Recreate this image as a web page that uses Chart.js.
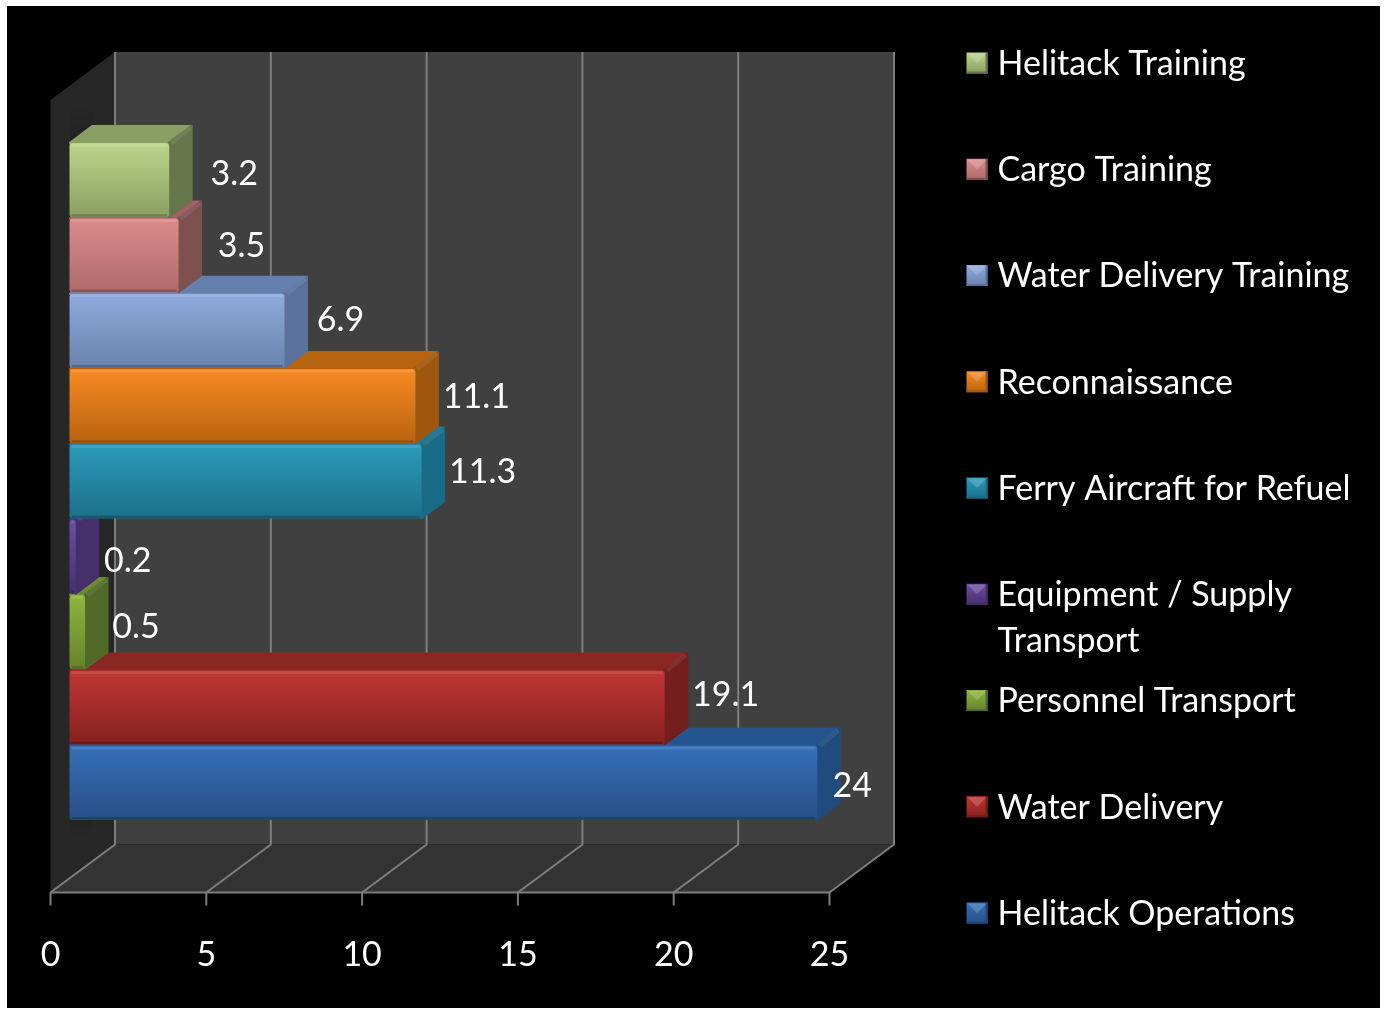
<!DOCTYPE html>
<html><head><meta charset="utf-8">
<style>html,body{margin:0;padding:0;background:#fff}canvas{display:block}</style>
<script src="https://cdn.jsdelivr.net/npm/chart.js@4/dist/chart.umd.min.js"></script>
</head><body><canvas id="c" width="1384" height="1009"></canvas>
<script>
const categories = ["Helitack Operations","Water Delivery","Personnel Transport","Equipment / Supply Transport","Ferry Aircraft for Refuel","Reconnaissance","Water Delivery Training","Cargo Training","Helitack Training"];
const values = [24,19.1,0.5,0.2,11.3,11.1,6.9,3.5,3.2];
const frontTop = ["#3670ba","#c03633","#8eb43f","#6f4ea3","#2b9abb","#f78a24","#8fabdc","#dd8b8b","#bcd58a"];
const frontBottom = ["#274f86","#85211f","#66832b","#452f6b","#1c7089","#b9630f","#6a82ae","#ad6b6b","#8a9f62"];
const topColors = ["#24558f","#8a2725","#6d8a30","#4e3677","#1c7a97","#b5630f","#6580ae","#a16161","#8a9f63"];
const sideColors = ["#204b7e","#741f1d","#516a28","#45306b","#186c85","#9f5710","#5a729d","#7f5050","#64764a"];
const labelNudgeX = [35,61,51,52,61,61,56,63,65];
const labelNudgeY = [3,-12,-5,4,-9,-9,-11,-9,-6];
const tickStep = 5, axisMax = 25;
const FONT = "Lato, Carlito, sans-serif";
const TEXT_SIZE = 34;

const WALL_DX = 64.5, WALL_DY = 48, FLOOR_Y = 892.5, WALL_TOP = 100;
const BAR_SHIFT = 19, DEPTH_X = 23, DEPTH_Y = 17.5;

function poly(ctx, pts, fill){
  ctx.beginPath();
  pts.forEach((p,i)=> i?ctx.lineTo(p[0],p[1]):ctx.moveTo(p[0],p[1]));
  ctx.closePath();
  ctx.fillStyle = fill; ctx.fill();
}

const origDraw = Chart.BarElement.prototype.draw;
Chart.BarElement.prototype.draw = function(ctx){
  const i = this.$context ? this.$context.dataIndex : 0;
  const x = this.x, base = this.base, t = this.y - this.height/2, b = this.y + this.height/2;
  ctx.save();
  ctx.translate(BAR_SHIFT,0);
  ctx.lineJoin = "round"; ctx.lineWidth = 3;
  // top face
  ctx.strokeStyle = topColors[i];
  poly(ctx,[[base+1,t],[base+DEPTH_X,t-DEPTH_Y+1],[x+DEPTH_X-1,t-DEPTH_Y+1],[x,t]],topColors[i]);
  ctx.stroke();
  // side face
  ctx.strokeStyle = sideColors[i];
  poly(ctx,[[x,t],[x+DEPTH_X-1,t-DEPTH_Y+1],[x+DEPTH_X-1,b-DEPTH_Y],[x,b-1]],sideColors[i]);
  ctx.stroke();
  // bevel on shared edge
  ctx.strokeStyle = "rgba(255,255,255,0.08)"; ctx.lineWidth = 5;
  ctx.beginPath(); ctx.moveTo(x+2,t); ctx.lineTo(x+DEPTH_X-2,t-DEPTH_Y+2); ctx.stroke();
  origDraw.call(this,ctx);
  // highlight on the front edge
  ctx.fillStyle = "rgba(255,255,255,0.12)";
  ctx.fillRect(base+2,t+1,Math.max(0,x-base-4),2.5);
  ctx.fillStyle = "rgba(0,0,0,0.2)";
  ctx.fillRect(base+2,b-3,Math.max(0,x-base-4),2.5);
  ctx.restore();
};

const backdrop = {
  id:"backdrop",
  beforeDraw(chart){
    const c = chart.ctx;
    c.save(); c.fillStyle = "#000"; c.fillRect(7,6,1373,1002); c.restore();
  },
  beforeDatasetsDraw(chart){
    const c = chart.ctx, xs = chart.scales.x;
    const x0 = xs.getPixelForValue(0), x1 = xs.getPixelForValue(axisMax);
    c.save();
    poly(c,[[x0+WALL_DX,WALL_TOP-WALL_DY],[x1+WALL_DX,WALL_TOP-WALL_DY],[x1+WALL_DX,FLOOR_Y-WALL_DY],[x0+WALL_DX,FLOOR_Y-WALL_DY]],"#404040");
    poly(c,[[x0,FLOOR_Y],[x0+WALL_DX,FLOOR_Y-WALL_DY],[x1+WALL_DX,FLOOR_Y-WALL_DY],[x1,FLOOR_Y]],"#333333");
    poly(c,[[x0,WALL_TOP],[x0+WALL_DX,WALL_TOP-WALL_DY],[x0+WALL_DX,FLOOR_Y-WALL_DY],[x0,FLOOR_Y]],"#272727");
    c.strokeStyle = "#7d7d7d"; c.lineWidth = 2;
    xs.ticks.forEach(tk=>{
      const x = xs.getPixelForValue(tk.value);
      c.beginPath();
      c.moveTo(x+WALL_DX,WALL_TOP-WALL_DY);
      c.lineTo(x+WALL_DX,FLOOR_Y-WALL_DY);
      c.lineTo(x,FLOOR_Y);
      c.lineTo(x,FLOOR_Y+13);
      c.stroke();
    });
    c.beginPath(); c.moveTo(x0,FLOOR_Y); c.lineTo(x1,FLOOR_Y); c.stroke();
    // soft shadow on the side wall, above and below the bars
    const a = chart.chartArea, sx = x0+BAR_SHIFT;
    let g = c.createLinearGradient(0,a.top-38,0,a.top);
    g.addColorStop(0,"rgba(0,0,0,0)"); g.addColorStop(1,"rgba(0,0,0,0.14)");
    c.fillStyle = g; c.fillRect(sx,a.top-38,24,38);
    g = c.createLinearGradient(0,a.bottom,0,a.bottom+16);
    g.addColorStop(0,"rgba(0,0,0,0.14)"); g.addColorStop(1,"rgba(0,0,0,0)");
    c.fillStyle = g; c.fillRect(sx,a.bottom,22,16);
    c.restore();
  },
  afterDatasetsDraw(chart){
    const c = chart.ctx, xs = chart.scales.x, ys = chart.scales.y;
    c.save();
    c.fillStyle = "#fff"; c.font = TEXT_SIZE+"px "+FONT;
    c.textAlign = "center"; c.textBaseline = "middle";
    values.forEach((v,i)=>{
      c.fillText(String(v), xs.getPixelForValue(v)+BAR_SHIFT+labelNudgeX[i], ys.getPixelForValue(i)+labelNudgeY[i]);
    });
    // legend, in reverse series order
    const LX = 966.5, TX = 997.5, R0 = 63, RH = 106.25, S = 21;
    c.textAlign = "left";
    [...categories.keys()].reverse().forEach((i,row)=>{
      const y = R0 + row*RH, h = S/2, x = LX, cx = x+h, cy = y;
      const g = c.createLinearGradient(0,y-h,0,y+h);
      g.addColorStop(0,frontTop[i]); g.addColorStop(1,frontBottom[i]);
      poly(c,[[x,y-h],[x+S,y-h],[x+S,y+h],[x,y+h]],g);
      poly(c,[[x+1,y-h+1],[x+S-1,y-h+1],[cx,cy]],"rgba(255,255,255,0.18)");
      poly(c,[[x,y+h-2],[x+S,y+h-2],[x+S,y+h],[x,y+h]],sideColors[i]);
      poly(c,[[x+S-2,y-h],[x+S,y-h],[x+S,y+h],[x+S-2,y+h]],sideColors[i]);
      c.fillStyle = "#fff";
      const words = categories[i].split(" "); let line = "", ly = y+1;
      words.forEach(w=>{
        const t = line ? line+" "+w : w;
        if (c.measureText(t).width > 365){ c.fillText(line,TX,ly); ly += 46; line = w; }
        else line = t;
      });
      c.fillText(line,TX,ly);
    });
    c.restore();
  }
};

new Chart(document.getElementById("c"),{
  type:"bar",
  data:{labels:categories,datasets:[{
    data:values,
    clip:false,
    barPercentage:0.985,
    categoryPercentage:1,
    borderRadius:3,
    borderSkipped:false,
    backgroundColor(ctx){
      const ch = ctx.chart, ys = ch.scales.y;
      const i = ctx.dataIndex;
      const y = (ys && i!==undefined) ? ys.getPixelForValue(i) : NaN;
      if(!isFinite(y)) return frontTop[i||0];
      const g = ch.ctx.createLinearGradient(0,y-37,0,y+37);
      g.addColorStop(0,frontTop[i]);
      g.addColorStop(1,frontBottom[i]);
      return g;
    }
  }]},
  options:{
    indexAxis:"y",responsive:false,animation:false,
    layout:{padding:{left:50.5,right:554.5,top:142.5,bottom:0}},
    plugins:{legend:{display:false},tooltip:{enabled:false}},
    scales:{
      x:{type:"linear",min:0,max:axisMax,
        grid:{display:false},border:{display:false},
        afterFit(s){s.height=188.5;s.paddingLeft=0;s.paddingRight=0;},
        ticks:{stepSize:tickStep,color:"#fff",maxRotation:0,padding:106,font:{family:FONT,size:TEXT_SIZE}}},
      y:{reverse:true,display:false,grid:{display:false}}
    }
  },
  plugins:[backdrop]
});
</script></body></html>
